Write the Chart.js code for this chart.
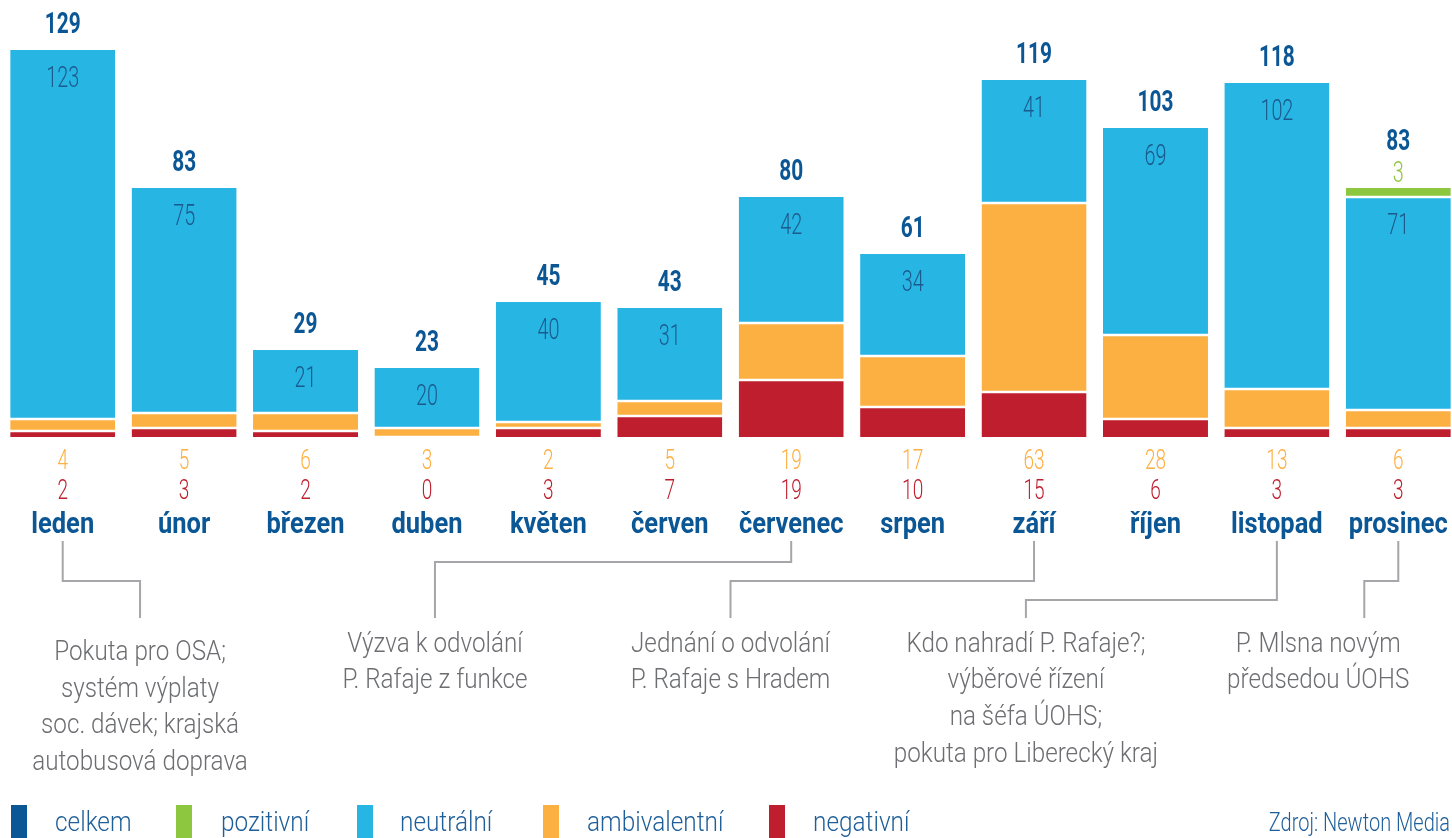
<!DOCTYPE html>
<html>
<head>
<meta charset="utf-8">
<script src="https://cdn.jsdelivr.net/npm/chart.js@4.4.1/dist/chart.umd.min.js"></script>
<style>
  html, body { margin: 0; padding: 0; background: #fff; overflow: hidden; }
  #wrap { position: absolute; left: 0; top: 0; width: 1460px; height: 838px; }
</style>
</head>
<body>
<div id="wrap"><canvas id="c"></canvas></div>
<script>
// ---- data ----
const months = ['leden','únor','březen','duben','květen','červen','červenec','srpen','září','říjen','listopad','prosinec'];
const celkem = [129, 83, 29, 23, 45, 43, 80, 61, 119, 103, 118, 83];
const pozitivni = [0, 0, 0, 0, 0, 0, 0, 0, 0, 0, 0, 3];
const neutralni = [123, 75, 21, 20, 40, 31, 42, 34, 41, 69, 102, 71];
const ambivalentni = [4, 5, 6, 3, 2, 5, 19, 17, 63, 28, 13, 6];
const negativni = [2, 3, 2, 0, 3, 7, 19, 10, 15, 6, 3, 3];
const legendLabels = ['celkem', 'pozitivní', 'neutrální', 'ambivalentní', 'negativní'];
const sourceText = 'Zdroj: Newton Media';
const noteMonths = [0, 6, 8, 10, 11];
const noteTexts = [
  ['Pokuta pro OSA;', 'systém výplaty', 'soc. dávek; krajská', 'autobusová doprava'],
  ['Výzva k odvolání', 'P. Rafaje z funkce'],
  ['Jednání o odvolání', 'P. Rafaje s Hradem'],
  ['Kdo nahradí P. Rafaje?;', 'výběrové řízení', 'na šéfa ÚOHS;', 'pokuta pro Liberecký kraj'],
  ['P. Mlsna novým', 'předsedou ÚOHS']
];

// ---- styles ----
const C = {
  total: '#0b5694', pos: '#8dc63f', neu: '#27b5e4', amb: '#fdb042', neg: '#be1e2d',
  inner: '#1b5a8c', note: '#6d6e71', line: '#a4a6a9', legendText: '#1f5f99'
};
const FONT = 'Roboto, "Liberation Sans", "DejaVu Sans", sans-serif';
const noteLayout = [
  { elbow: 581, drop: 0.637, text: 0.637, base: 660 },
  { elbow: 562, drop: 3.066, text: 3.066, base: 651.5 },
  { elbow: 581, drop: 5.5,   text: 5.5,   base: 651.5 },
  { elbow: 600, drop: 7.933, text: 7.933, base: 651.5 },
  { elbow: 581, drop: 10.72, text: 10.34, base: 651.5 }
];
const legendX = [[11, 55], [176, 221], [357, 400], [543, 587], [769, 813]];
const legendColors = [C.total, C.pos, C.neu, C.amb, C.neg];

function bw(topOn, bottomOn) {
  return { top: topOn ? 1.3 : 0, bottom: bottomOn ? 1.3 : 0, left: 0, right: 0 };
}
function txt(ctx, s, x, y, font, color, sx, align) {
  ctx.save();
  ctx.font = font;
  ctx.fillStyle = color;
  ctx.textAlign = align || 'center';
  ctx.textBaseline = 'alphabetic';
  ctx.translate(x, y);
  ctx.scale(sx, 1);
  ctx.fillText(s, 0, 0);
  ctx.restore();
}

const overlay = {
  id: 'overlay',
  afterDraw(chart) {
    const ctx = chart.ctx, xs = chart.scales.x, ys = chart.scales.y;
    const BOLD = '700 29px ' + FONT, LIGHT = '300 30px ' + FONT, SMALL = '300 28px ' + FONT;
    months.forEach((m, i) => {
      const cx = xs.getPixelForValue(i);
      const top = ys.getPixelForValue(celkem[i]);
      const neuTop = ys.getPixelForValue(celkem[i] - pozitivni[i]);
      if (pozitivni[i] > 0) {
        txt(ctx, String(celkem[i]), cx, top - 38, BOLD, C.total, 0.72);
        txt(ctx, String(pozitivni[i]), cx, top - 6, LIGHT, C.pos, 0.66);
      } else {
        txt(ctx, String(celkem[i]), cx, top - 17, BOLD, C.total, 0.72);
      }
      txt(ctx, String(neutralni[i]), cx, neuTop + 37, LIGHT, C.inner, 0.66);
      txt(ctx, String(ambivalentni[i]), cx, 468.5, SMALL, C.amb, 0.68);
      txt(ctx, String(negativni[i]), cx, 498.5, SMALL, C.neg, 0.68);
      txt(ctx, m, cx, 532.5, '700 30px ' + FONT, C.total, 0.85);
    });
    // annotations
    ctx.save();
    ctx.strokeStyle = C.line;
    ctx.lineWidth = 2;
    noteMonths.forEach((mi, k) => {
      const L = noteLayout[k];
      const x0 = xs.getPixelForValue(mi);
      const x1 = xs.getPixelForValue(L.drop);
      const xt = xs.getPixelForValue(L.text);
      ctx.beginPath();
      ctx.moveTo(x0, 541);
      ctx.lineTo(x0, L.elbow);
      ctx.lineTo(x1, L.elbow);
      ctx.lineTo(x1, 618);
      ctx.stroke();
      noteTexts[k].forEach((t, j) => txt(ctx, t, xt, L.base + j * 36.7, '300 28px ' + FONT, C.note, 0.865));
    });
    ctx.restore();
    // legend
    legendLabels.forEach((lab, i) => {
      ctx.fillStyle = legendColors[i];
      ctx.fillRect(legendX[i][0], 805, 16, 33);
      txt(ctx, lab, legendX[i][1], 831, '300 28px ' + FONT, C.legendText, 0.87, 'left');
    });
    txt(ctx, sourceText, 1450, 831, '300 25px ' + FONT, C.legendText, 0.8, 'right');
  }
};

new Chart(document.getElementById('c'), {
  type: 'bar',
  data: {
    labels: months,
    datasets: [
      { label: 'negativní', data: negativni, backgroundColor: C.neg, borderWidth: bw(true, false) },
      { label: 'ambivalentní', data: ambivalentni, backgroundColor: C.amb, borderWidth: bw(true, true) },
      { label: 'neutrální', data: neutralni, backgroundColor: C.neu,
        borderWidth: (ctx) => bw(pozitivni[ctx.dataIndex] > 0, true) },
      { label: 'pozitivní', data: pozitivni, backgroundColor: C.pos, borderWidth: bw(false, true) }
    ]
  },
  options: {
    responsive: true,
    maintainAspectRatio: false,
    animation: false,
    events: [],
    layout: { padding: { left: 2, right: 1, top: 17, bottom: 401 } },
    datasets: { bar: { borderColor: '#ffffff', borderSkipped: false, categoryPercentage: 1, barPercentage: 0.865 } },
    scales: {
      x: { stacked: true, display: false },
      y: { stacked: true, display: false, min: 0, max: 140 }
    },
    plugins: { legend: { display: false }, tooltip: { enabled: false } }
  },
  plugins: [overlay]
});
</script>
</body>
</html>
